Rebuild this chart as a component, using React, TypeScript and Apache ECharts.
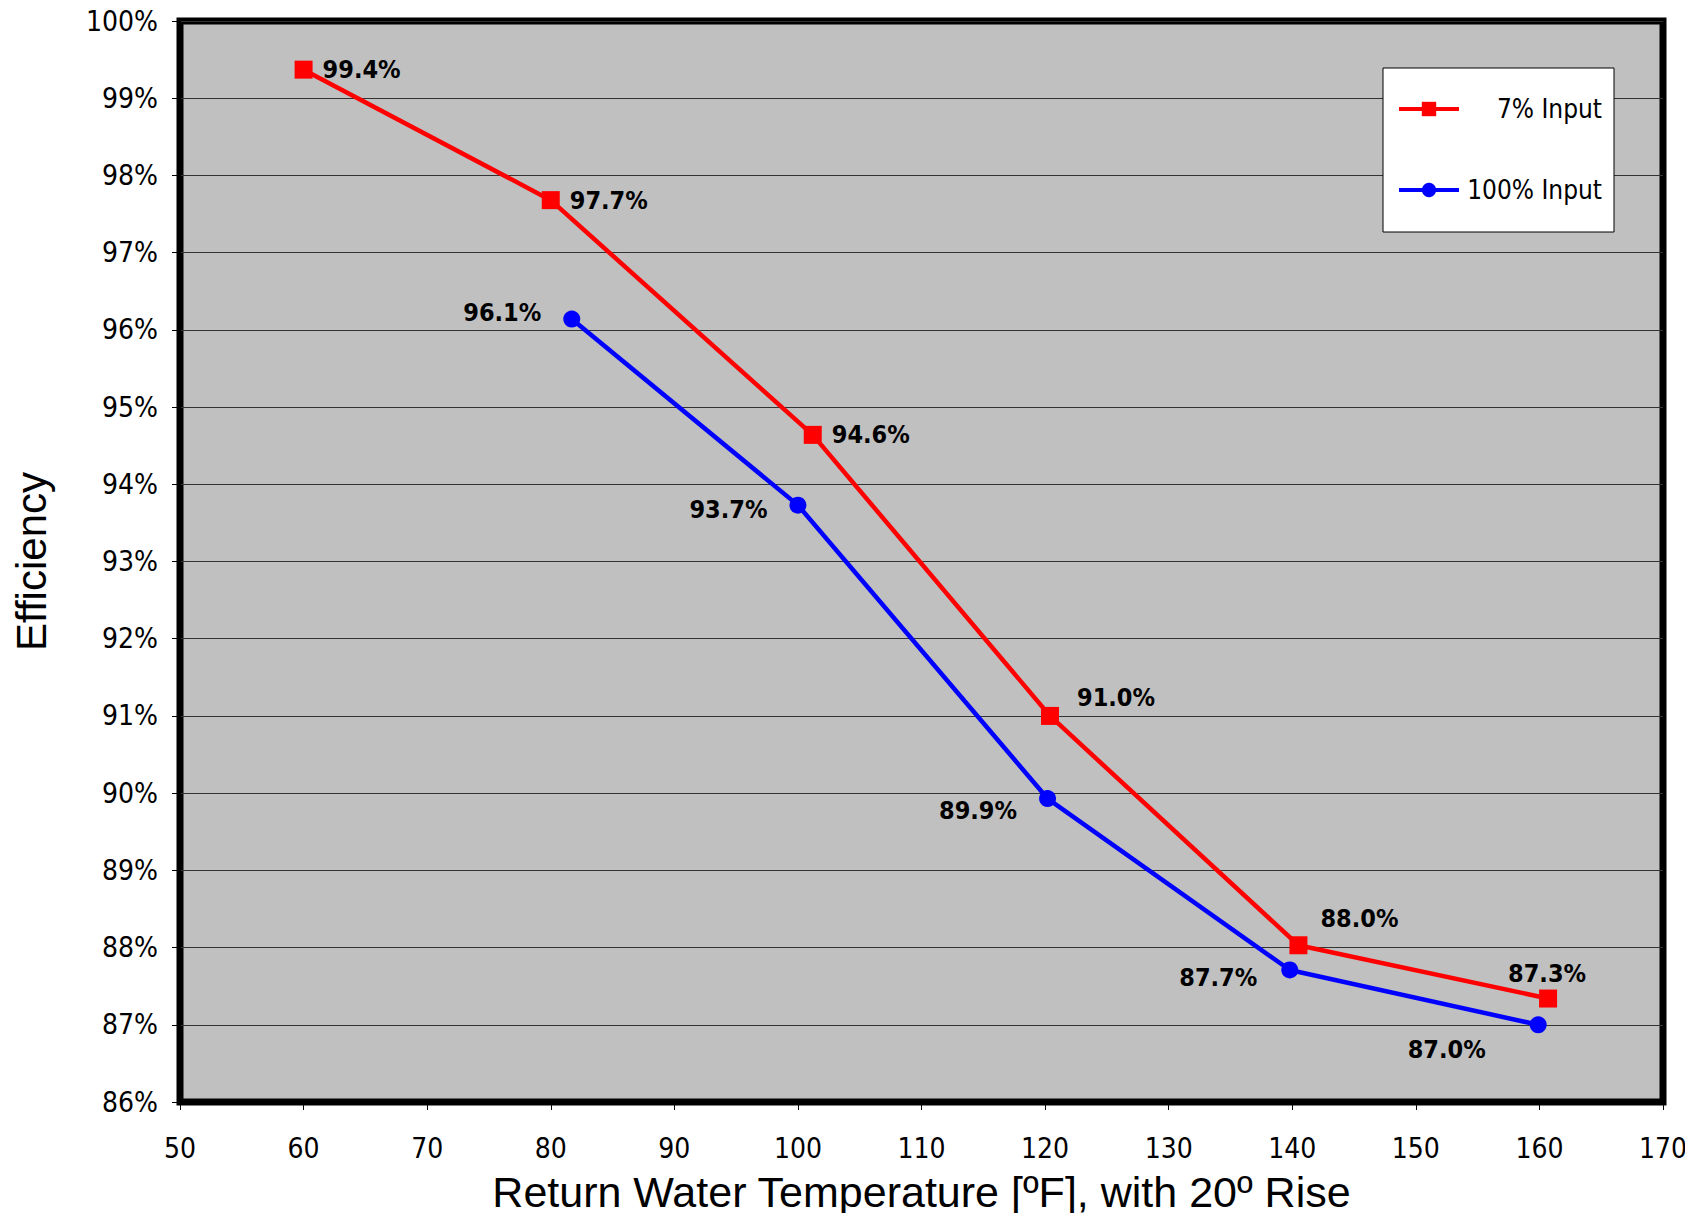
import React, { useEffect, useRef } from "react";
import * as echarts from "echarts";

const xTicks = { min: 50, max: 170, interval: 10 };
const yTicks = { min: 86, max: 100, interval: 1 };

const redX = [60, 80, 101.2, 120.4, 140.5, 160.7];
const redY = [99.37, 97.68, 94.64, 91.0, 88.03, 87.34];
const blueX = [81.7, 100.0, 120.2, 139.8, 159.9];
const blueY = [96.14, 93.73, 89.93, 87.71, 87.0];

const redName = "7% Input";
const blueName = "100% Input";

// label placement (layout only)
const redLabelLayout: [string, number[]][] = [
  ["right", [2, 0]],
  ["right", [2, 0]],
  ["right", [2, 0]],
  ["right", [10, -18]],
  ["right", [5, -27]],
  ["top", [-1, 4]],
];
const blueLabelLayout: [string, number[]][] = [
  ["left", [-14, -7]],
  ["left", [-14, 4]],
  ["left", [-14, 12]],
  ["left", [-16, 8]],
  ["left", [-36, 25]],
];

const narrow = "'Liberation Sans Narrow', 'DejaVu Sans Condensed', 'Arial Narrow', sans-serif";
const regular = "'Liberation Sans', Arial, sans-serif";

export default function App() {
  const ref = useRef<HTMLDivElement>(null);
  useEffect(() => {
    const chart = echarts.init(ref.current!, null, { renderer: "svg" });
    const labelStyle = {
      show: true,
      fontFamily: narrow,
      fontWeight: "bold" as const,
      fontSize: 25,
      color: "#000",
      formatter: (p: any) => `${p.value[1].toFixed(1)}%`,
    };
    const mk = (xs: number[], ys: number[], layout: [string, number[]][]) =>
      xs.map((x, i) => ({
        value: [x, ys[i]],
        label: { position: layout[i][0], offset: layout[i][1], distance: 8 },
      }));
    chart.setOption({
      animation: false,
      backgroundColor: "#fff",
      grid: {
        left: 180,
        top: 21,
        right: 30,
        bottom: 119,
        show: true,
        backgroundColor: "#C0C0C0",
        borderColor: "#000",
        borderWidth: 7,
      },
      legend: {
        left: 1383,
        top: 68,
        orient: "vertical",
        backgroundColor: "#fff",
        borderColor: "#000",
        borderWidth: 1,
        borderRadius: 0,
        padding: [28, 12, 29, 14],
        itemGap: 55,
        itemWidth: 60,
        itemHeight: 18,
        lineStyle: { width: 4 },
        formatter: (name: string) => `{t|${name}}`,
        textStyle: {
          fontFamily: narrow,
          fontSize: 26,
          color: "#000",
          rich: {
            t: {
              fontFamily: narrow,
              fontSize: 26,
              color: "#000",
              width: 138,
              align: "right",
            },
          },
        },
        data: [redName, blueName],
      },
      xAxis: {
        type: "value",
        min: xTicks.min,
        max: xTicks.max,
        interval: xTicks.interval,
        name: "Return Water Temperature [ºF], with 20º Rise",
        nameLocation: "middle",
        nameGap: 68,
        nameTextStyle: { fontFamily: regular, fontSize: 43, color: "#000" },
        axisLine: { show: true, lineStyle: { color: "#000", width: 1 } },
        axisTick: { show: true, length: 8, lineStyle: { color: "#000" } },
        axisLabel: { fontFamily: narrow, fontSize: 28, color: "#000", margin: 32 },
        splitLine: { show: false },
      },
      yAxis: {
        type: "value",
        min: yTicks.min,
        max: yTicks.max,
        interval: yTicks.interval,
        name: "Efficiency",
        nameLocation: "middle",
        nameGap: 128,
        nameTextStyle: { fontFamily: regular, fontSize: 42, color: "#000" },
        axisLine: { show: true, lineStyle: { color: "#000", width: 1 } },
        axisTick: { show: true, length: 8, lineStyle: { color: "#000" } },
        axisLabel: {
          fontFamily: narrow,
          fontSize: 28,
          color: "#000",
          margin: 22,
          formatter: (v: number) => `${v}%`,
        },
        splitLine: { show: true, lineStyle: { color: "#333", width: 1 } },
      },
      series: [
        {
          name: redName,
          type: "line",
          data: mk(redX, redY, redLabelLayout),
          symbol: "rect",
          symbolSize: 18,
          lineStyle: { color: "#FF0000", width: 4.5 },
          itemStyle: { color: "#FF0000" },
          label: labelStyle,
          z: 3,
        },
        {
          name: blueName,
          type: "line",
          data: mk(blueX, blueY, blueLabelLayout),
          symbol: "circle",
          symbolSize: 17,
          lineStyle: { color: "#0000FF", width: 4.5 },
          itemStyle: { color: "#0000FF" },
          label: labelStyle,
          z: 2,
        },
      ],
    });
    return () => chart.dispose();
  }, []);
  return <div ref={ref} style={{ width: 1693, height: 1221, margin: -8 }} />;
}
